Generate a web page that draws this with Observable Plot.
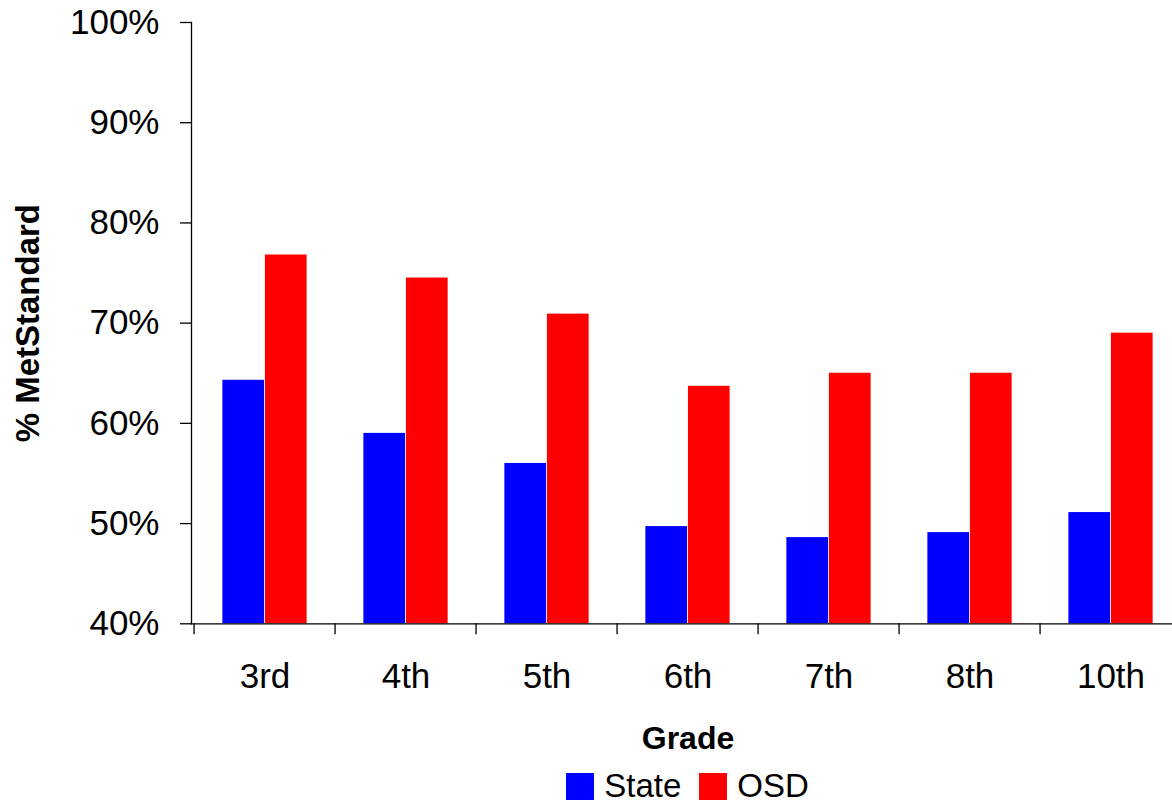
<!DOCTYPE html>
<html>
<head>
<meta charset="utf-8">
<script src="https://cdn.jsdelivr.net/npm/d3@7"></script>
<script src="https://cdn.jsdelivr.net/npm/@observablehq/plot@0.6"></script>
<style>
  html, body { margin: 0; padding: 0; background: #fff; overflow: hidden; }
  #chart svg { display: block; max-width: none !important; }
  .legend {
    display: flex; justify-content: center; align-items: center;
    margin-left: 191px; width: 993px; padding-top: 5px;
    font-family: 'Liberation Sans', Arial, sans-serif; font-size: 33px;
    line-height: 30px; height: 30px; color: #000;
  }
  .legend .item { display: inline-flex; align-items: center; margin-right: 18px; }
  .legend .item:last-child { margin-right: 0; }
  .legend .swatch { width: 28px; height: 27px; margin-right: 10px; }
</style>
</head>
<body>
<div id="chart"></div>
<script>
// Percentage of students meeting standard, by grade
const grades = ["3rd", "4th", "5th", "6th", "7th", "8th", "10th"];
const series = ["State", "OSD"];
const stateValues = [64.3, 59.0, 56.0, 49.7, 48.6, 49.1, 51.1];
const osdValues = [76.8, 74.5, 70.9, 63.7, 65.0, 65.0, 69.0];
const seriesColors = ["#0000ff", "#ff0000"];
const yTicks = [40, 50, 60, 70, 80, 90, 100];

const width = 1184, height = 766;
const marginLeft = 191, marginRight = 0, marginTop = 22, marginBottom = 142.7;
const bandwidth = (width - marginLeft - marginRight) / grades.length;
const yMin = yTicks[0], yMax = yTicks[yTicks.length - 1];
const font = "'Liberation Sans', Arial, sans-serif";

const rows = grades.flatMap((g, i) => [
  {grade: g, series: series[0], value: stateValues[i]},
  {grade: g, series: series[1], value: osdValues[i]}
]);

const plot = Plot.plot({
  width, height, marginLeft, marginRight, marginTop, marginBottom,
  style: {fontFamily: font, background: "#fff", color: "#000", overflow: "visible", maxWidth: "none"},
  x: {domain: grades, padding: 0, axis: null},
  y: {domain: [yMin, yMax], axis: null},
  color: {domain: series, range: seriesColors},
  marks: [
    // grouped bars: State on the left half, OSD on the right half of each group
    Plot.barY(rows.filter(d => d.series === series[0]), {
      x: "grade", y1: yMin, y2: "value", fill: "series",
      insetLeft: 0.2 * bandwidth, insetRight: 0.5 * bandwidth
    }),
    Plot.barY(rows.filter(d => d.series === series[1]), {
      x: "grade", y1: yMin, y2: "value", fill: "series",
      insetLeft: 0.5 * bandwidth, insetRight: 0.2 * bandwidth
    }),
    // axis lines
    Plot.frame({anchor: "left", stroke: "#000", strokeWidth: 1.3}),
    Plot.frame({anchor: "bottom", stroke: "#000", strokeWidth: 1.3}),
    // y axis
    Plot.axisY({
      ticks: yTicks, tickFormat: d => d + "%", tickSize: 11, tickPadding: 21,
      fontSize: 35, stroke: "#000", strokeWidth: 1.3, label: null
    }),
    // x axis: ticks between groups, labels centred under each group
    Plot.axisX({
      tickSize: 11, tickFormat: () => "", dx: -bandwidth / 2,
      stroke: "#000", strokeWidth: 1.3, label: null
    }),
    Plot.axisX({tickSize: 0, tickPadding: 39, fontSize: 35, label: null}),
    // axis titles
    Plot.text(["% MetStandard"], {
      frameAnchor: "left", textAnchor: "middle", rotate: -90, dx: -163,
      fontSize: 33, fontWeight: "bold", fill: "#000"
    }),
    Plot.text(["Grade"], {
      frameAnchor: "bottom", textAnchor: "middle", dy: 102, lineAnchor: "top",
      fontSize: 32, fontWeight: "bold", fill: "#000"
    })
  ]
});

document.getElementById("chart").appendChild(plot);

// legend below the chart
const legend = d3.select("body").append("div").attr("class", "legend");
series.forEach((s, i) => {
  const item = legend.append("span").attr("class", "item");
  item.append("span").attr("class", "swatch").style("background", seriesColors[i]);
  item.append("span").text(s);
});
</script>
</body>
</html>
